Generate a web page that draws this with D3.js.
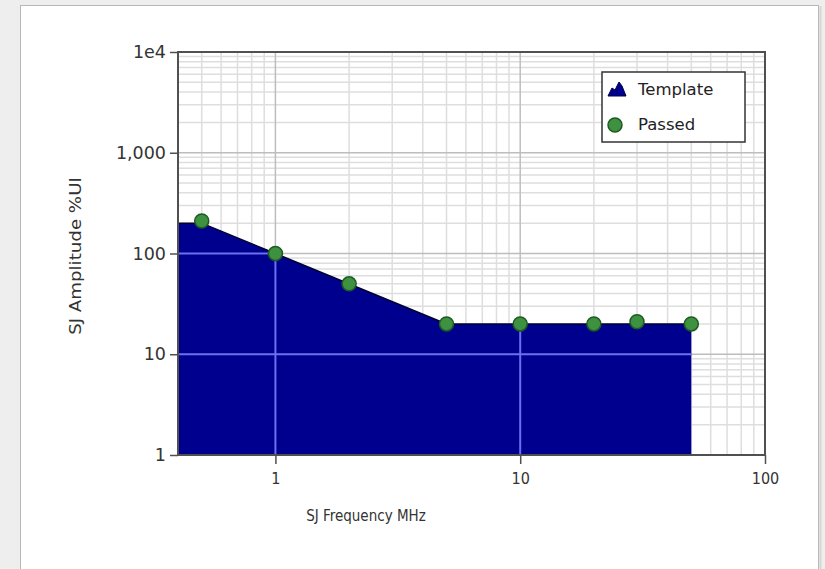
<!DOCTYPE html>
<html>
<head>
<meta charset="utf-8">
<script src="https://cdn.jsdelivr.net/npm/d3@7"></script>
<style>
  body { margin: 0; background: #eeeeee; }
  svg { display: block; }
  .tick-y { font-family: "DejaVu Sans", sans-serif; font-size: 17.5px; fill: #333; }
  .tick-x { font-family: "DejaVu Sans Condensed", "DejaVu Sans", sans-serif; font-size: 16px; fill: #333; }
  .title { font-family: "DejaVu Sans Condensed", "DejaVu Sans", sans-serif; font-size: 15px; fill: #333; }
  .legend { font-family: "DejaVu Sans", sans-serif; font-size: 16.5px; fill: #222; }
</style>
</head>
<body>
<div id="chart"></div>
<script>
// Template mask (SJ frequency MHz -> amplitude %UI)
var templateFreq = [0.4, 0.5, 1, 5, 50];
var templateAmp  = [200, 200, 100, 20, 20];

// Passed measurement points
var passedFreq = [0.5, 1, 2, 5, 10, 20, 30, 50];
var passedAmp  = [210, 100, 50, 20, 20, 20, 21, 20];

// Axis ticks
var xTickValues = [1, 10, 100];
var xTickLabels = ["1", "10", "100"];
var yTickValues = [1, 10, 100, 1000, 10000];
var yTickLabels = ["1", "10", "100", "1,000", "1e4"];

var legendLabels = ["Template", "Passed"];

// chart size
var W = 825, H = 569;
var margin = {top: 52, right: 60, bottom: 114, left: 178};
var width = W - margin.left - margin.right;
var height = H - margin.top - margin.bottom;

var xScale = d3.scaleLog().domain([0.4, 100]).range([0, width]);
var yScale = d3.scaleLog().domain([1, 10000]).range([height, 0]);

var svg = d3.select("#chart").append("svg")
    .attr("width", W)
    .attr("height", H);

// white panel
svg.append("rect")
    .attr("x", 20.5).attr("y", 5.5)
    .attr("width", 798).attr("height", 580)
    .attr("fill", "#fff")
    .attr("stroke", "#b8b8b8");
svg.append("line")
    .attr("x1", 820.5).attr("x2", 820.5).attr("y1", 6).attr("y2", H)
    .attr("stroke", "#d6d6d6").attr("stroke-width", 2);

var g = svg.append("g")
    .attr("transform", "translate(" + margin.left + "," + margin.top + ")");

// minor grid values
var minorX = [], minorY = [];
[0.1, 1, 10].forEach(function(dec) {
  for (var k = 2; k < 10; k++) {
    var v = dec * k;
    if (v > 0.4 && v < 100) minorX.push(v);
  }
});
[1, 10, 100, 1000].forEach(function(dec) {
  for (var k = 2; k < 10; k++) minorY.push(dec * k);
});

// grid
g.selectAll(".minor-x").data(minorX).enter().append("line")
    .attr("x1", function(d) { return xScale(d); })
    .attr("x2", function(d) { return xScale(d); })
    .attr("y1", 0).attr("y2", height)
    .attr("stroke", "#dedede").attr("stroke-width", 1.5);
g.selectAll(".minor-y").data(minorY).enter().append("line")
    .attr("y1", function(d) { return yScale(d); })
    .attr("y2", function(d) { return yScale(d); })
    .attr("x1", 0).attr("x2", width)
    .attr("stroke", "#dedede").attr("stroke-width", 1.5);
g.selectAll(".major-x").data(xTickValues).enter().append("line")
    .attr("x1", function(d) { return xScale(d); })
    .attr("x2", function(d) { return xScale(d); })
    .attr("y1", 0).attr("y2", height)
    .attr("stroke", "#bdbdbd").attr("stroke-width", 1.5);
g.selectAll(".major-y").data(yTickValues).enter().append("line")
    .attr("y1", function(d) { return yScale(d); })
    .attr("y2", function(d) { return yScale(d); })
    .attr("x1", 0).attr("x2", width)
    .attr("stroke", "#bdbdbd").attr("stroke-width", 1.5);

// template area
var templateData = templateFreq.map(function(f, i) { return {f: f, a: templateAmp[i]}; });
var area = d3.area()
    .x(function(d) { return xScale(d.f); })
    .y0(height)
    .y1(function(d) { return yScale(d.a); });
var line = d3.line()
    .x(function(d) { return xScale(d.f); })
    .y(function(d) { return yScale(d.a); });

g.append("clipPath").attr("id", "tmpl-clip")
  .append("path").attr("d", area(templateData));

g.append("path")
    .attr("d", area(templateData))
    .attr("fill", "#00008e");
g.append("path")
    .attr("d", line(templateData))
    .attr("fill", "none")
    .attr("stroke", "#000030")
    .attr("stroke-width", 1.5);

// major grid lines showing through the template
var over = g.append("g").attr("clip-path", "url(#tmpl-clip)");
over.selectAll("line.vx").data(xTickValues).enter().append("line")
    .attr("x1", function(d) { return xScale(d); })
    .attr("x2", function(d) { return xScale(d); })
    .attr("y1", 0).attr("y2", height)
    .attr("stroke", "#6a70f0").attr("stroke-width", 2);
over.selectAll("line.hy").data(yTickValues).enter().append("line")
    .attr("y1", function(d) { return yScale(d); })
    .attr("y2", function(d) { return yScale(d); })
    .attr("x1", 0).attr("x2", width)
    .attr("stroke", "#6a70f0").attr("stroke-width", 2);

// passed points
g.selectAll("circle.passed")
    .data(passedFreq.map(function(f, i) { return {f: f, a: passedAmp[i]}; }))
    .enter().append("circle")
    .attr("class", "passed")
    .attr("cx", function(d) { return xScale(d.f); })
    .attr("cy", function(d) { return yScale(d.a); })
    .attr("r", 7)
    .attr("fill", "#3d9140")
    .attr("stroke", "#1f5a22")
    .attr("stroke-width", 1.5);

// frame
g.append("rect")
    .attr("width", width).attr("height", height)
    .attr("fill", "none")
    .attr("stroke", "#505050")
    .attr("stroke-width", 2);

// axes
var xAxis = d3.axisBottom(xScale)
    .tickValues(xTickValues)
    .tickFormat(function(d, i) { return xTickLabels[i]; })
    .tickSizeInner(9).tickSizeOuter(0).tickPadding(9);
var yAxis = d3.axisLeft(yScale)
    .tickValues(yTickValues)
    .tickFormat(function(d, i) { return yTickLabels[i]; })
    .tickSizeInner(8).tickSizeOuter(0).tickPadding(4);

var gx = g.append("g")
    .attr("transform", "translate(0," + height + ")")
    .call(xAxis);
gx.select(".domain").remove();
gx.selectAll("line").attr("stroke", "#505050").attr("stroke-width", 1.5);
gx.selectAll("text").attr("class", "tick-x").attr("fill", null).attr("font-family", null).attr("font-size", null);

var gy = g.append("g").call(yAxis);
gy.select(".domain").remove();
gy.selectAll("line").attr("stroke", "#505050").attr("stroke-width", 1.5);
gy.selectAll("text").attr("class", "tick-y").attr("fill", null).attr("font-family", null).attr("font-size", null);

// axis titles
svg.append("text")
    .attr("class", "title")
    .attr("text-anchor", "middle")
    .attr("x", 366).attr("y", 521)
    .text("SJ Frequency MHz");
svg.append("text")
    .attr("class", "title")
    .attr("text-anchor", "middle")
    .attr("transform", "translate(81,256) scale(1,1.35) rotate(-90)")
    .text("SJ Amplitude %UI");

// legend
var legend = svg.append("g").attr("transform", "translate(602,72)");
legend.append("rect")
    .attr("width", 143).attr("height", 70)
    .attr("fill", "#fff")
    .attr("stroke", "#333")
    .attr("stroke-width", 1.5);
legend.append("path")
    .attr("d", "M6,24 L10,16 L13,18 L17,10 L20,14 L24,24 Z")
    .attr("fill", "#00008e")
    .attr("stroke", "#000040");
legend.append("circle")
    .attr("cx", 13).attr("cy", 53).attr("r", 7)
    .attr("fill", "#3d9140")
    .attr("stroke", "#1f5a22")
    .attr("stroke-width", 1.5);
legend.selectAll("text.legend").data(legendLabels).enter().append("text")
    .attr("class", "legend")
    .attr("x", 36)
    .attr("y", function(d, i) { return 23 + i * 35; })
    .text(function(d) { return d; });
</script>
</body>
</html>
